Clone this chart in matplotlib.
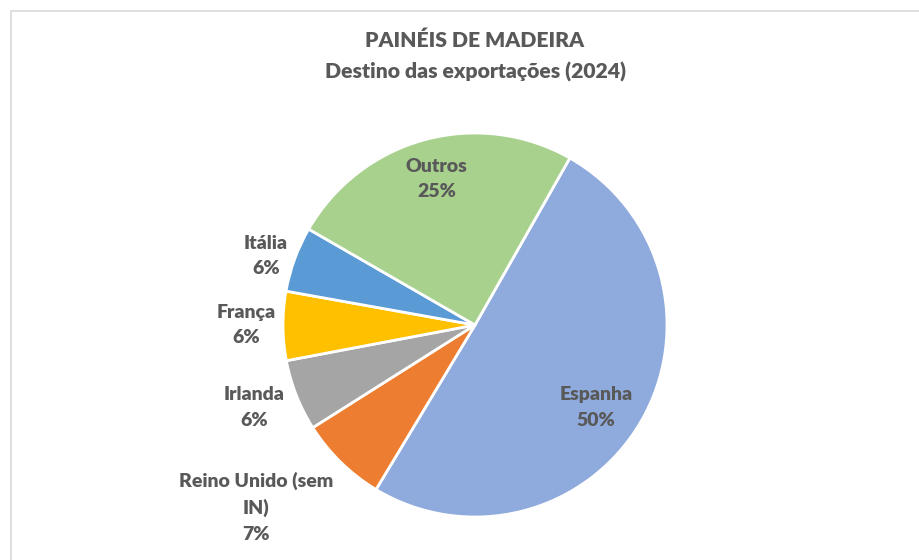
import matplotlib.pyplot as plt
from matplotlib.patches import Rectangle

# Data
categories = ["Espanha", "Reino Unido (sem\nIN)", "Irlanda", "França", "Itália", "Outros"]
shares = [50.4, 7.4, 6.0, 5.8, 5.5, 24.9]
pct_labels = ["50%", "7%", "6%", "6%", "6%", "25%"]
colors = ["#8FAADC", "#ED7D31", "#A5A5A5", "#FFC000", "#5B9BD5", "#A9D18E"]

# label anchor points, in pie-radius units
label_pos = [(0.63, -0.43), (-1.14, -0.95), (-1.15, -0.43), (-1.19, 0.0), (-1.09, 0.36), (-0.20, 0.76)]

W, H = 919, 560
CX, CY, R = 475, 325, 192
TEXT = "#595959"
FONT = ["Lato", "DejaVu Sans"]

fig = plt.figure(figsize=(W / 100, H / 100), dpi=100)
ax = fig.add_axes([0, 0, 1, 1])

# chart frame
fig.patches.append(Rectangle((10.5 / W, -0.1), 1.2, (H - 10.5) / H + 0.1,
                             transform=fig.transFigure, fill=False,
                             edgecolor="#D9D9D9", linewidth=1.2))

ax.pie(shares, colors=colors, startangle=60.4, counterclock=False, radius=1,
       wedgeprops=dict(edgecolor="white", linewidth=2), frame=True)
ax.set_xlim(-CX / R, (W - CX) / R)
ax.set_ylim(-(H - CY) / R, CY / R)
ax.set_aspect("auto")
ax.axis("off")

for name, pct, (x, y) in zip(categories, pct_labels, label_pos):
    ax.text(x, y, f"{name}\n{pct}", ha="center", va="center", fontsize=14,
            fontweight="heavy", color=TEXT, family=FONT, linespacing=1.6)

fig.text(CX / W, 1 - 40 / H, "PAINÉIS DE MADEIRA", ha="center", va="center",
         fontsize=15.2, fontweight="heavy", color=TEXT, family=FONT)
fig.text(CX / W, 1 - 72 / H, "Destino das exportações (2024)", ha="center", va="center",
         fontsize=15.2, fontweight="heavy", color=TEXT, family=FONT)

fig.savefig("out.png", dpi=100)
